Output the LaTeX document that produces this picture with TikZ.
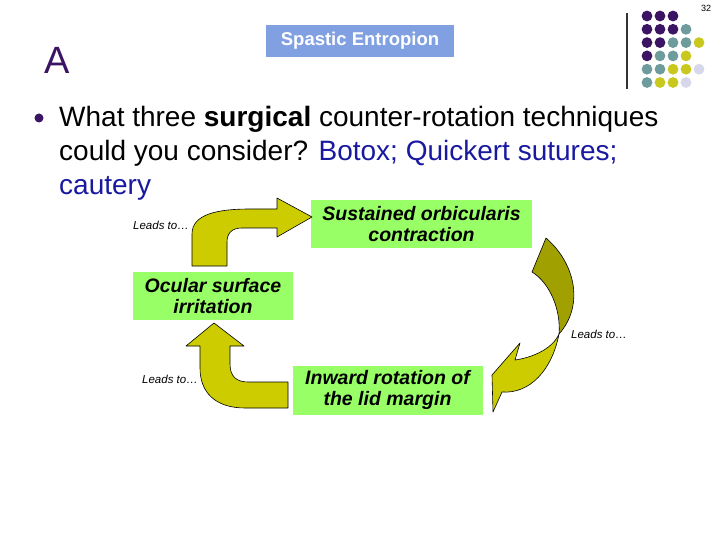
\documentclass[tikz,border=0pt]{standalone}
\usepackage{fontspec}
\setmainfont{Liberation Sans}
\usetikzlibrary{positioning}
\definecolor{slidepurple}{RGB}{60,20,100}
\definecolor{dotteal}{RGB}{110,155,155}
\definecolor{dotyellow}{RGB}{200,200,30}
\definecolor{dotlav}{RGB}{215,215,235}
\definecolor{boxgreen}{RGB}{153,255,102}
\definecolor{titleblue}{RGB}{128,160,225}
\definecolor{ansblue}{RGB}{25,25,160}
\definecolor{arrowyellow}{RGB}{204,204,0}
\definecolor{arrowolive}{RGB}{160,160,0}

\begin{document}
\begin{tikzpicture}[x=1pt, y=-1pt,
  box/.style={fill=boxgreen, minimum height=48pt, align=center, inner sep=2pt,
              font=\fontsize{19.5}{21}\selectfont\bfseries\itshape},
  lead/.style={font=\fontsize{11.5}{13}\selectfont\itshape},
  blk/.style={fill=arrowyellow, draw=black, line width=0.6pt,
              line join=round}
]
\useasboundingbox (0,0) rectangle (720,540);
% Slide decoration
\node[font=\fontsize{9}{10}\selectfont] (pagenum) at (706,8) {32};
\draw[line width=1.2pt, black!80] (627,13) -- (627,89);
\foreach \row/\cols in {1/{slidepurple,slidepurple,slidepurple},
    2/{slidepurple,slidepurple,slidepurple,dotteal},
    3/{slidepurple,slidepurple,dotteal,dotteal,dotyellow},
    4/{slidepurple,dotteal,dotteal,dotyellow},
    5/{dotteal,dotteal,dotyellow,dotyellow,dotlav},
    6/{dotteal,dotyellow,dotyellow,dotlav}}
  \foreach \c [count=\i] in \cols
    \fill[\c] (634+13*\i, 2.7+13.3*\row) circle (5.4);
\node[font=\fontsize{38}{40}\selectfont, text=slidepurple] (letterA)
  at (57,60) {A};
\node[fill=titleblue, minimum width=188pt, minimum height=32pt,
      text=white, font=\fontsize{18.5}{20}\selectfont\bfseries]
  (title) at (360,41) {Spastic Entropion};
% Question
\fill[slidepurple] (39,118) circle (4.5);
\node[anchor=north west, inner sep=0pt, align=left,
      font=\fontsize{28}{33.6}\selectfont] (question) at (59,106.5)
  {What three \textbf{surgical} counter-rotation techniques\\
   could you consider? \textcolor{ansblue}{Botox; Quickert sutures;}\\
   \textcolor{ansblue}{cautery}};
% Cycle boxes
\node[box, minimum width=221pt] (orbic) at (421.5,224)
  {Sustained orbicularis\\contraction};
\node[box, minimum width=160pt] (ocular) at (213,296)
  {Ocular surface\\irritation};
\node[box, minimum width=190pt, minimum height=49pt] (inward) at (387.5,390)
  {Inward rotation of\\the lid margin};
% Block arrows
\draw[blk] (192,266) -- (192,234) .. controls (192,214) and (218,209) .. (250,209)
  -- (277,209) -- (277,198) -- (312,217) -- (277,237) -- (277,228) -- (242,228)
  .. controls (232,228) and (227,233) .. (227,242) -- (227,266) -- cycle;
\draw[blk, fill=arrowolive] (546,238) .. controls (576,264) and (584,306) .. (559,334)
  .. controls (561,310) and (550,283) .. (532,272) -- cycle;
\draw[blk] (559,334) .. controls (552,350) and (530,358) .. (515,360) -- (520,343)
  -- (492,375) -- (493,412) -- (502,392) .. controls (530,394) and (552,370) .. (559,334)
  -- cycle;
\draw[blk] (214,323) -- (244,346) -- (230,346) -- (230,364)
  .. controls (230,376) and (236,382) .. (248,382) -- (288,382) -- (288,408)
  -- (245,408) .. controls (215,408) and (200,392) .. (200,368) -- (200,346)
  -- (186,346) -- cycle;
% Labels
\node[lead] (lead1) at (161,225) {Leads to\dots};
\node[lead] (lead2) at (599,334) {Leads to\dots};
\node[lead] (lead3) at (170,379) {Leads to\dots};
\end{tikzpicture}
\end{document}
